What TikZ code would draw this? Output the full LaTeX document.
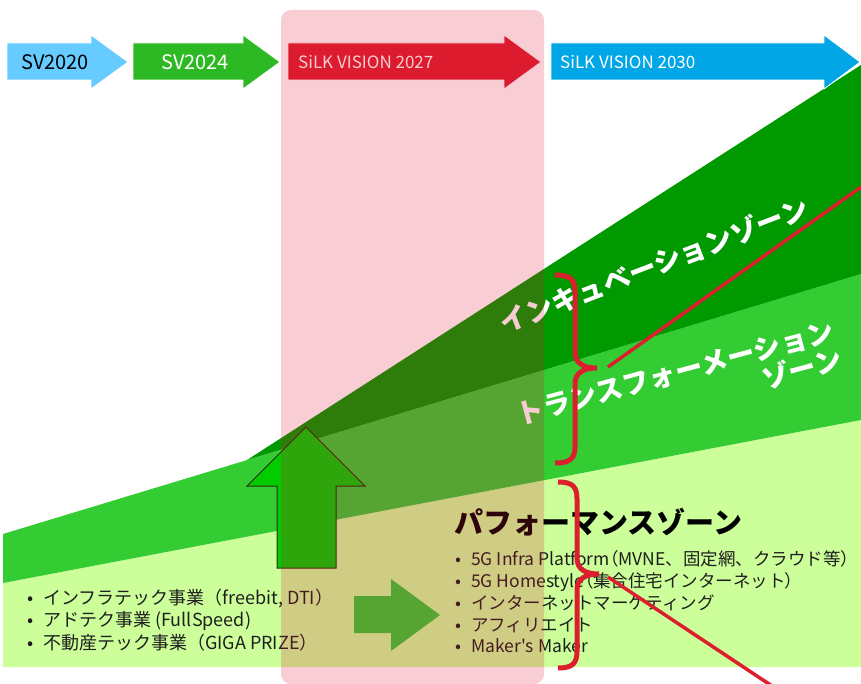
\documentclass[tikz,border=0pt]{standalone}
\usepackage{fontspec}
\setmainfont{Noto Sans CJK JP}
\newfontfamily\pfont{Noto Sans CJK JP}[RawFeature=+palt]
\newfontfamily\jpplain{Noto Sans CJK JP}
\definecolor{lg}{RGB}{204,255,153}
\definecolor{mg}{RGB}{51,204,51}
\definecolor{dg}{RGB}{0,153,0}
\definecolor{ovl}{RGB}{220,20,50}
\definecolor{rd}{RGB}{220,31,45}
\definecolor{lb}{RGB}{102,204,255}
\definecolor{gr}{RGB}{45,185,35}
\definecolor{bl}{RGB}{0,166,230}
\definecolor{upg}{RGB}{0,204,0}
\definecolor{txt}{RGB}{30,30,30}
\definecolor{outl}{RGB}{50,40,20}
\newcommand\mybul{\makebox[16pt][l]{•}}
\begin{document}
\begin{tikzpicture}[x=1pt,y=-1pt,
  tlarrow/.style={draw=white, line width=0.8pt},
  tltext/.style={anchor=west, inner sep=0pt, text=white},
  zone/.style={text=white, inner sep=0pt, font=\fontsize{27.5}{29}\selectfont\bfseries},
  bracestyle/.style={draw=rd, line width=5pt},
  redline/.style={draw=rd, line width=3.5pt},
  listbox/.style={anchor=west, inner sep=0pt, align=left, text=txt}]
\useasboundingbox (0,0) rectangle (861,684);
% zone bands
\fill[lg] (3,583) -- (861,420) -- (861,667) -- (3,667) -- cycle;
\fill[mg] (3,534) -- (861,274) -- (861,420) -- (3,583) -- cycle;
\fill[dg] (247,460) -- (861,65) -- (861,274) -- cycle;
% timeline arrows
\fill[lb,tlarrow] (7,43) -- (91,43) -- (91,35) -- (128,62) -- (91,89) -- (91,80) -- (7,80) -- cycle;
\fill[gr,tlarrow] (133,43) -- (243,43) -- (243,35) -- (280,62) -- (243,89) -- (243,80) -- (133,80) -- cycle;
\fill[rd,tlarrow] (288,43) -- (504,43) -- (504,35) -- (541,62) -- (504,89) -- (504,80) -- (288,80) -- cycle;
\fill[bl,tlarrow] (551,43) -- (824,43) -- (824,35) -- (860,62) -- (824,89) -- (824,80) -- (551,80) -- cycle;
\node[tltext, text=black, font=\fontsize{20}{24}\selectfont] (sv20) at (21,62) {SV2020};
\node[tltext, font=\fontsize{20}{24}\selectfont] (sv24) at (161,62) {SV2024};
\node[tltext, font=\fontsize{17}{20}\selectfont] (sv27) at (298,62) {SiLK VISION 2027};
\node[tltext, font=\fontsize{17}{20}\selectfont] (sv30) at (560,62) {SiLK VISION 2030};
% block arrows
\filldraw[fill=upg, draw=outl, line width=1pt] (306,427) -- (365,486) -- (336,486) -- (336,568) -- (277,568) -- (277,486) -- (247,486) -- cycle;
\fill[mg] (354,596) -- (391,596) -- (391,579) -- (440,615) -- (391,651) -- (391,633) -- (354,633) -- cycle;
% zone labels
\node[zone, rotate=21] (inc) at (654,265) {インキュベーションゾーン};
\node[zone, rotate=15, align=right] (trf) at (679,387) {トランスフォーメーション\\ゾーン};
\node[anchor=west, inner sep=0pt, text=black, font=\fontsize{29}{32}\selectfont\bfseries] (perf) at (454,522) {パフォーマンスゾーン};
% lists
\node[listbox, font=\fontsize{18}{22.5}\selectfont] (list1) at (27,620)
 {\mybul インフラテック事業（freebit, DTI）\\
  \mybul アドテク事業 (FullSpeed)\\
  \mybul 不動産テック事業（GIGA PRIZE）};
\node[listbox, font=\fontsize{17.5}{21.75}\selectfont] (list2) at (455,602)
 {\mybul 5G Infra Platform{\pfont （}MVNE、固定網、クラウド等{\pfont ）}\\
  \mybul 5G Homestyle{\pfont （}集合住宅インターネット{\pfont ）}\\
  \mybul インターネットマーケティング\\
  \mybul アフィリエイト\\
  \mybul Maker{\jpplain '}s Maker};
% SiLK VISION 2027 overlay
\fill[ovl, opacity=0.21, rounded corners=10pt] (281,10) rectangle (544,684);
% braces
\draw[bracestyle] (555,275) .. controls (571,275) and (575,280) .. (575,292) -- (575,352)
  .. controls (575,363) and (583,368) .. (597,368) .. controls (583,368) and (575,373) .. (575,384)
  -- (575,446) .. controls (575,458) and (571,463) .. (555,463);
\draw[bracestyle] (558,482) .. controls (573,482) and (577,487) .. (577,499) -- (577,558)
  .. controls (577,569) and (585,574) .. (599,574) .. controls (585,574) and (577,579) .. (577,590)
  -- (577,651) .. controls (577,663) and (573,668) .. (558,668);
% red lines
\coordinate (r1a) at (608,367);
\coordinate (r1b) at (861,187);
\coordinate (r2a) at (608,577);
\coordinate (r2b) at (772,686);
\draw[redline] (r1a) -- (r1b);
\draw[redline] (r2a) -- (r2b);
\end{tikzpicture}
\end{document}
